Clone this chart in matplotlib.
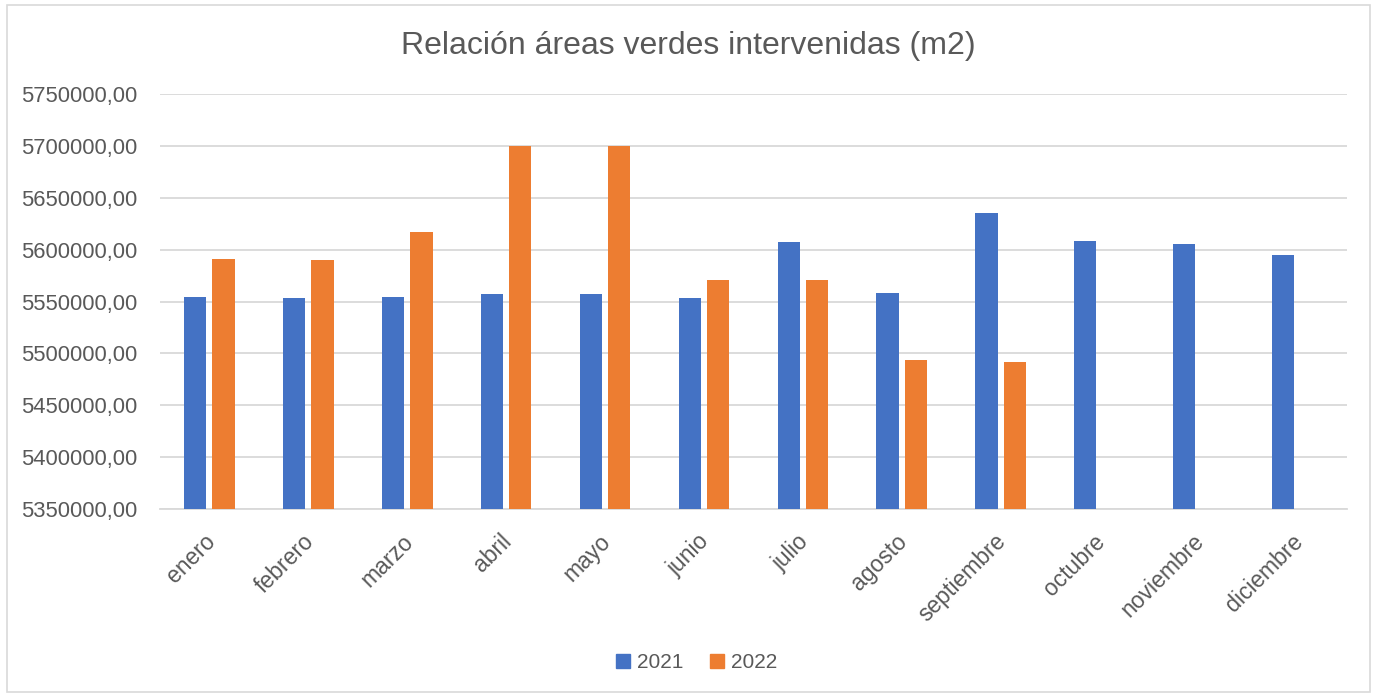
import numpy as np
import matplotlib
matplotlib.use("Agg")
import matplotlib.pyplot as plt
from matplotlib.ticker import FuncFormatter, MultipleLocator
from matplotlib.patches import Rectangle

plt.rcParams['font.family'] = ['Liberation Sans', 'DejaVu Sans']

meses = ['enero', 'febrero', 'marzo', 'abril', 'mayo', 'junio', 'julio',
         'agosto', 'septiembre', 'octubre', 'noviembre', 'diciembre']
valores_2021 = [5554500, 5553500, 5554500, 5557100, 5557100, 5553500, 5607700,
                5558400, 5635600, 5608300, 5605100, 5594500]
# 2022 only has data up to septiembre
valores_2022 = [5591000, 5590400, 5616900, 5700000, 5700000, 5571200, 5570500,
                5493600, 5491300]
series = ['2021', '2022']

azul = '#4472C4'
naranja = '#ED7D31'
gris = '#595959'

fig = plt.figure(figsize=(13.77, 6.98), dpi=100)
ax = fig.add_axes([0.1162, 0.2708, 0.8618, 0.5945])

x = np.arange(len(meses))
w = 0.225
off = 0.143
ax.bar(x - off, valores_2021, width=w, color=azul, label=series[0], zorder=3)
x2 = np.arange(len(valores_2022))
ax.bar(x2 + off, valores_2022, width=w, color=naranja, label=series[1], zorder=3)

ax.set_ylim(5350000, 5750000)
ax.set_xlim(-0.5, len(meses) - 0.5)
ax.yaxis.set_major_locator(MultipleLocator(50000))
ax.yaxis.set_major_formatter(FuncFormatter(lambda v, p: f"{v:.2f}".replace('.', ',')))
ax.grid(axis='y', color='#D9D9D9', linewidth=1.3, zorder=0)

for s in ['top', 'right', 'left']:
    ax.spines[s].set_visible(False)
ax.spines['bottom'].set_color('#D9D9D9')
ax.spines['bottom'].set_linewidth(1.3)
ax.tick_params(axis='y', length=0, labelsize=15.8, labelcolor=gris, pad=16)
ax.tick_params(axis='x', length=0, labelsize=16.5, labelcolor=gris)

ax.set_xticks(x)
ax.set_xticklabels(meses, rotation=45, ha='right', rotation_mode='anchor')
for lbl in ax.get_xticklabels():
    lbl.set_transform(lbl.get_transform() + matplotlib.transforms.ScaledTranslation(-0.06, -0.16, fig.dpi_scale_trans))

fig.text(0.5, 1 - 46 / 698, 'Relación áreas verdes intervenidas (m2)', ha='center', va='center',
         fontsize=23, color=gris)

handles = [Rectangle((0, 0), 1, 1, color=azul), Rectangle((0, 0), 1, 1, color=naranja)]
fig.legend(handles, series, loc='center', bbox_to_anchor=(0.506, 1 - 663 / 698), ncol=2,
           frameon=False, fontsize=15, labelcolor=gris, handlelength=0.65, handleheight=0.65,
           handletextpad=0.35, columnspacing=1.3)

fig.patches.append(Rectangle((0.005, 0.008), 0.99, 0.985, transform=fig.transFigure,
                             fill=False, edgecolor='#D9D9D9', linewidth=1.2))

fig.savefig('out.png', dpi=100)
